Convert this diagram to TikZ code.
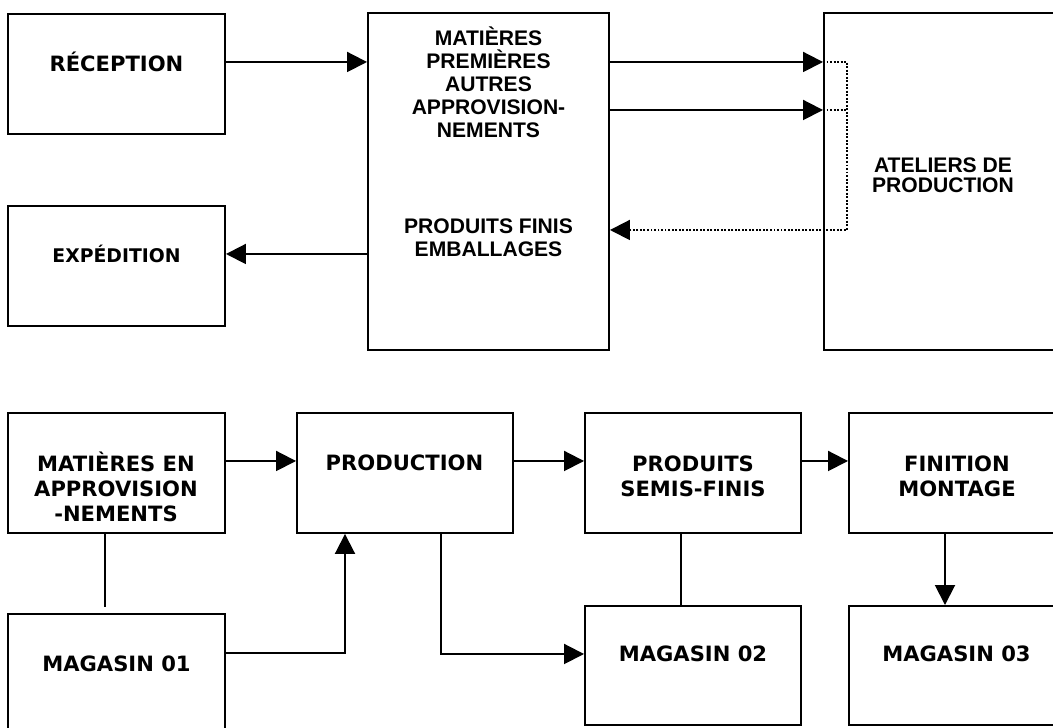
\documentclass[tikz,border=0pt]{standalone}
\usepackage{fontspec}
\usetikzlibrary{arrows.meta}
\newfontfamily\verdfont{DejaVu Sans}
\newfontfamily\arifont{Liberation Sans}

\begin{document}
\begin{tikzpicture}[
        bloc/.style={draw, line width=1.1pt, inner sep=0pt, minimum width=4.34cm, minimum height=2.4cm},
        fleche/.style={line width=1.1pt, -{Triangle[length=0.4cm,width=0.4cm]}},
        lien/.style={line width=1.1pt},
        pointille/.style={line width=0.7pt, dash pattern=on 1.1pt off 0.9pt},
        txtv/.style={font=\verdfont\bfseries\fontsize{12}{14.5}\selectfont, align=center, anchor=base, inner sep=0pt},
        txta/.style={font=\arifont\bfseries\fontsize{12}{13.2}\selectfont, align=center, anchor=base, inner sep=0pt}]
        \useasboundingbox (0,0) rectangle (21.06,14.56);

        % flux magasins / ateliers
        \node [bloc] (recep) at (2.33,13.08) {};                                 %
        \node [txtv] (trecep) at (2.33,13.12) {RÉCEPTION};                       %
        \node [bloc] (exped) at (2.33,9.24) {};                                  %
        \node [txtv, font=\verdfont\bfseries\fontsize{10.7}{13}\selectfont] (texped) at (2.33,9.30) {EXPÉDITION};
        \node [bloc, minimum width=4.82cm, minimum height=6.74cm] (stock) at (9.77,10.93) {};
        \node [txta] (tmat) at (9.77,11.80) {MATIÈRES\\PREMIÈRES\\AUTRES\\APPROVISION-\\NEMENTS};
        \node [txta] (tfinis) at (9.77,9.42) {PRODUITS FINIS\\EMBALLAGES};     %
        \node [bloc, minimum width=4.82cm, minimum height=6.74cm] (atel) at (18.89,10.93) {};
        \node [txta, font=\arifont\bfseries\fontsize{12}{11.4}\selectfont] (tatel) at (18.86,10.70) {ATELIERS DE\\PRODUCTION};

        \draw [fleche] ([yshift=0.24cm]recep.east) -- ([yshift=0.24cm]recep.east -| stock.west);
        \draw [fleche] ([yshift=2.39cm]stock.east) -- ([yshift=2.39cm]atel.west);  %
        \draw [fleche] ([yshift=1.43cm]stock.east) -- ([yshift=1.43cm]atel.west);  %
        \draw [pointille, fleche] ([yshift=2.39cm]atel.west) -- ++(0.48,0) |- ([yshift=-0.97cm]stock.east);
        \draw [pointille] ([yshift=1.43cm]atel.west) -- ++(0.48,0);                %
        \draw [fleche] ([yshift=-1.45cm]stock.west) -- ([yshift=-1.45cm]stock.west -| exped.east);

        % chaine de production
        \node [bloc] (mat) at (2.33,5.10) {};                                    %
        \node [txtv] (tmatap) at (2.32,4.12) {MATIÈRES EN\\APPROVISION\\-NEMENTS};
        \node [bloc, minimum width=4.32cm] (prod) at (8.10,5.10) {};             %
        \node [txtv] (tprod) at (8.09,5.14) {PRODUCTION};                        %
        \node [bloc, minimum width=4.32cm] (semi) at (13.86,5.10) {};            %
        \node [txtv] (tsemi) at (13.86,4.62) {PRODUITS\\SEMIS-FINIS};            %
        \node [bloc, minimum width=4.32cm] (fini) at (19.14,5.10) {};            %
        \node [txtv] (tfini) at (19.14,4.62) {FINITION\\MONTAGE};                %
        \node [bloc] (mag1) at (2.33,1.08) {};                                   %
        \node [txtv] (tmag1) at (2.33,1.12) {MAGASIN 01};                        %
        \node [bloc, minimum width=4.32cm, minimum height=2.38cm] (mag2) at (13.86,1.25) {};
        \node [txtv] (tmag2) at (13.86,1.32) {MAGASIN 02};                       %
        \node [bloc, minimum width=4.32cm, minimum height=2.38cm] (mag3) at (19.14,1.25) {};
        \node [txtv] (tmag3) at (19.13,1.32) {MAGASIN 03};                       %

        \draw [fleche] ([yshift=0.24cm]mat.east) -- ([yshift=0.24cm]prod.west);    %
        \draw [fleche] ([yshift=0.24cm]prod.east) -- ([yshift=0.24cm]semi.west);   %
        \draw [fleche] ([yshift=0.24cm]semi.east) -- ([yshift=0.24cm]fini.west);   %
        \draw [lien] ([xshift=-0.23cm]mat.south) -- ++(0,-1.46);                   %
        \draw [fleche] ([yshift=0.42cm]mag1.east) -| ([xshift=-1.2cm]prod.south);  %
        \draw [fleche] ([xshift=0.72cm]prod.south) |- ([yshift=0.23cm]mag2.west);  %
        \draw [lien] ([xshift=-0.24cm]semi.south) -- ([xshift=-0.24cm]mag2.north); %
        \draw [fleche] ([xshift=-0.24cm]fini.south) -- ([xshift=-0.24cm]mag3.north);
\end{tikzpicture}
\end{document}
